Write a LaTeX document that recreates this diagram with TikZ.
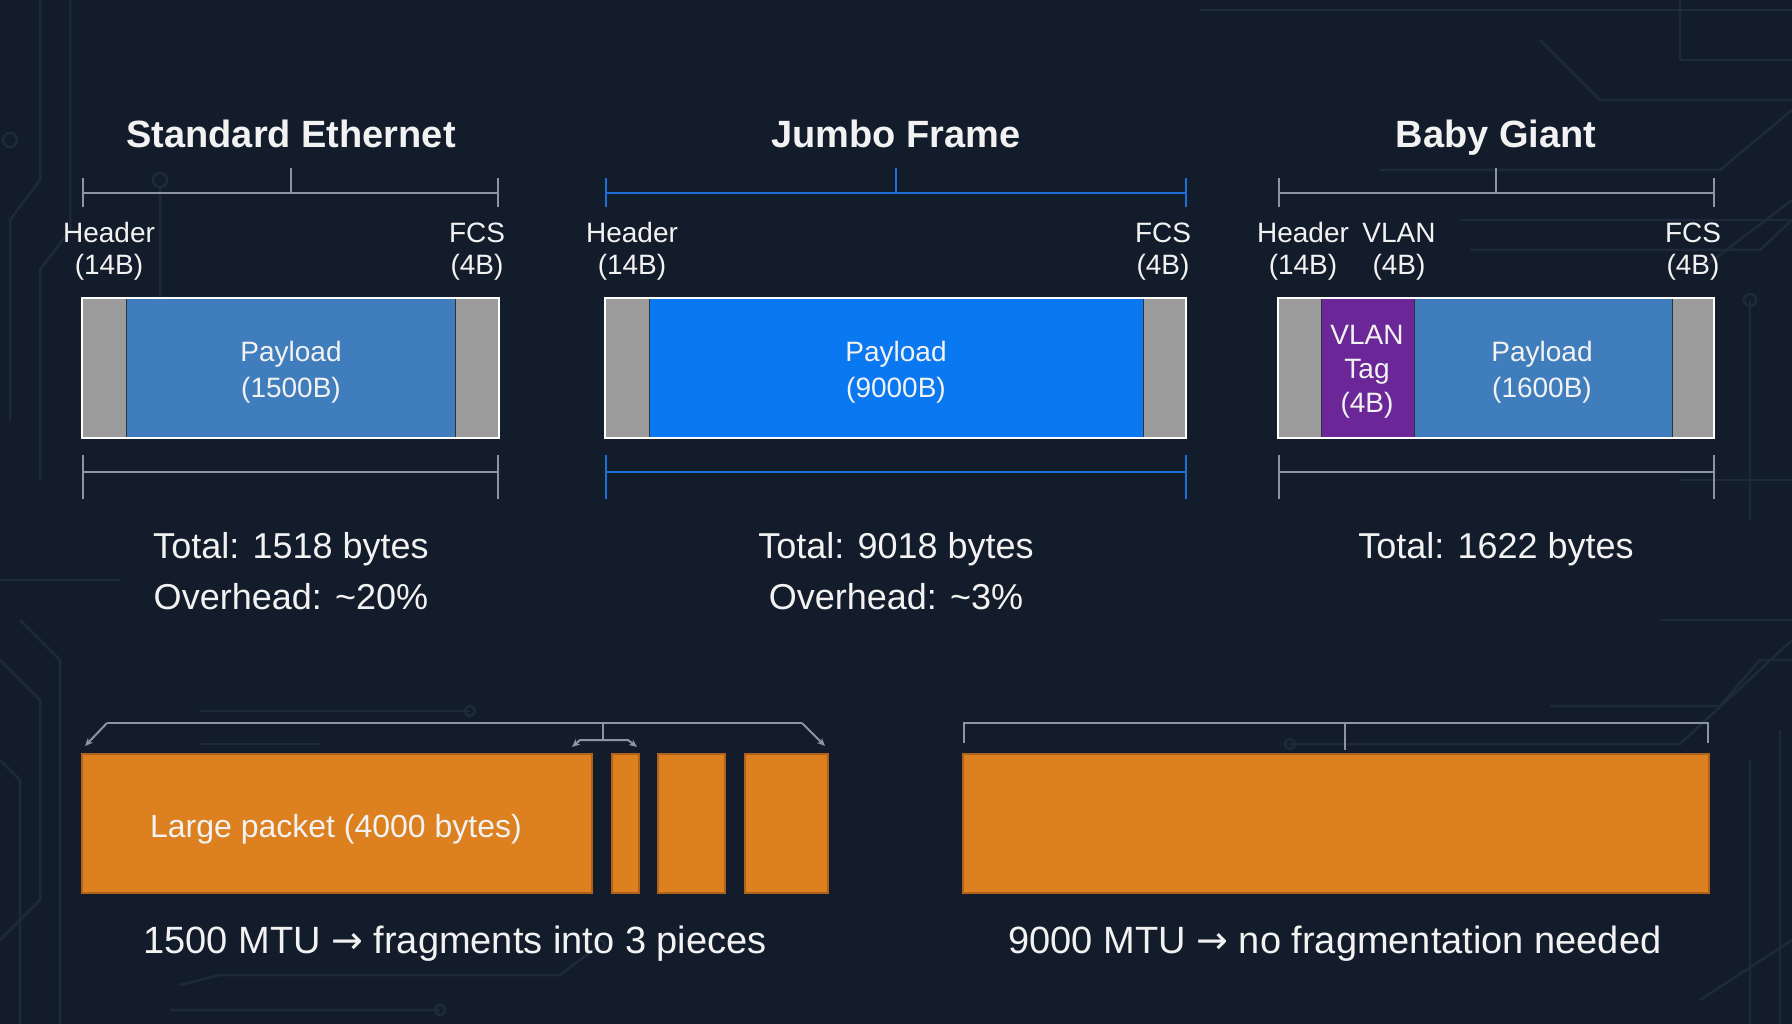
\documentclass[tikz,border=0pt]{standalone}
\usepackage{fontspec}
\setmainfont{Liberation Sans}
\newfontfamily\arr{DejaVu Sans}
\usetikzlibrary{calc,arrows.meta}
\definecolor{bg}{HTML}{131C2A}
\definecolor{trace}{HTML}{1E2939}
\definecolor{segline}{HTML}{2A3340}
\definecolor{hdrgray}{HTML}{9B9B9B}
\definecolor{stdblue}{HTML}{3F7DBD}
\definecolor{jumboblue}{HTML}{0A78F0}
\definecolor{vlanpurple}{HTML}{6B2797}
\definecolor{pktorange}{HTML}{DC8020}
\definecolor{pktborder}{HTML}{B0621A}
\definecolor{brkgray}{HTML}{8C96A3}
\definecolor{brkblue}{HTML}{1F6FD8}
\definecolor{txt}{HTML}{F2F2F2}
\tikzset{
  seg/.style={draw=segline, line width=1, inner sep=0, outer sep=0, anchor=north west, minimum height=140},
  frame/.style={draw=white!85, line width=2, inner sep=0, outer sep=0, anchor=north west, minimum height=140},
  pkt/.style={fill=pktorange, draw=pktborder, line width=1.5, inner sep=0, outer sep=0, anchor=north west, minimum height=139},
  lbl/.style={text=txt, inner sep=0, anchor=base, font=\fontsize{28}{32}\selectfont},
  ttl/.style={text=txt, inner sep=0, anchor=base, font=\fontsize{38}{44}\bfseries\selectfont},
  tot/.style={text=txt, inner sep=0, anchor=base, font=\fontsize{36}{44}\selectfont},
  captxt/.style={text=txt, inner sep=0, anchor=base, font=\fontsize{38}{44}\selectfont},
  brk/.style={draw=brkgray, line width=2},
  brkb/.style={draw=brkblue, line width=2.5},
  tr/.style={draw=trace, line width=2.5},
  tip/.style={-{Stealth[length=8,width=7]}}
}
\begin{document}
\begin{tikzpicture}[x=1pt,y=-1pt]
\fill[bg] (0,0) rectangle (1792,1024);
\useasboundingbox (0,0) rectangle (1792,1024);
% faint circuit traces
\draw[tr] (40,0) -- (40,180) -- (10,220) -- (10,420);
\draw[tr] (70,0) -- (70,230) -- (40,270) -- (40,480);
\draw[tr] (10,140) circle (7);
\draw[tr] (160,180) circle (7) (160,187) -- (160,300);
\draw[tr] (0,660) -- (40,700) -- (40,900) -- (0,940);
\draw[tr] (20,620) -- (60,660) -- (60,1024);
\draw[tr] (0,760) -- (20,780) -- (20,1024);
\draw[tr] (200,711) -- (470,711);
\draw[tr] (470,711) circle (5);
\draw[tr] (200,744) -- (320,744);
\draw[tr] (1540,40) -- (1600,100) -- (1792,100);
\draw[tr] (1380,170) -- (1720,170) -- (1792,110);
\draw[tr] (1460,220) -- (1792,220);
\draw[tr] (1470,250) -- (1760,250) -- (1792,220);
\draw[tr] (1680,0) -- (1680,60) -- (1792,60);
\draw[tr] (1700,270) -- (1792,200);
\draw[tr] (1750,300) -- (1750,520);
\draw[tr] (1750,300) circle (6);
\draw[tr] (1680,480) -- (1792,480);
\draw[tr] (1660,620) -- (1792,620);
\draw[tr] (1550,706) -- (1720,706) -- (1760,660) -- (1792,660);
\draw[tr] (1290,744) -- (1680,744) -- (1792,640);
\draw[tr] (1290,744) circle (5);
\draw[tr] (1750,760) -- (1750,1024);
\draw[tr] (1780,730) -- (1780,1024);
\draw[tr] (1700,1000) -- (1792,940);
\draw[tr] (0,580) -- (120,580);
\draw[tr] (1200,10) -- (1792,10);
\draw[tr] (180,985) -- (220,975) -- (560,975) -- (600,945) circle (5);
\draw[tr] (170,1010) -- (440,1010) circle (5);

% ===== Standard Ethernet =====
\node[ttl] (t1) at (291,148) {Standard Ethernet};
\node[seg, fill=hdrgray, minimum width=44] (s1h) at (82,298) {};
\node[seg, fill=stdblue, minimum width=329] (s1p) at (126,298) {};
\node[seg, fill=hdrgray, minimum width=44] (s1f) at (455,298) {};
\node[frame, minimum width=417] (s1) at (82,298) {};
\node[lbl] (p1a) at (291,362) {Payload};
\node[lbl] (p1b) at (291,397) {(1500B)};
\node[lbl] (l1h) at (109,243) {Header};
\node[lbl] (l1h2) at (109,275) {(14B)};
\node[lbl] (l1f) at (477,243) {FCS};
\node[lbl] (l1f2) at (477,275) {(4B)};
\draw[brk] (83,178) -- (83,207) (498,178) -- (498,207);
\draw[brk] (83,193) -- (498,193);
\draw[brk] (291,168) -- (291,193);
\draw[brk] (83,472) -- (498,472) (83,455) -- (83,499) (498,455) -- (498,499);
\node[tot] (tot1) at (291,558) {Total: 1518 bytes};
\node[tot] (ov1) at (291,609) {Overhead: \textasciitilde20\%};

% ===== Jumbo Frame =====
\node[ttl] (t2) at (896,148) {Jumbo Frame};
\node[seg, fill=hdrgray, minimum width=44] (s2h) at (605,298) {};
\node[seg, fill=jumboblue, minimum width=494] (s2p) at (649,298) {};
\node[seg, fill=hdrgray, minimum width=43] (s2f) at (1143,298) {};
\node[frame, minimum width=581] (s2) at (605,298) {};
\node[lbl] (p2a) at (896,362) {Payload};
\node[lbl] (p2b) at (896,397) {(9000B)};
\node[lbl] (l2h) at (632,243) {Header};
\node[lbl] (l2h2) at (632,275) {(14B)};
\node[lbl] (l2f) at (1163,243) {FCS};
\node[lbl] (l2f2) at (1163,275) {(4B)};
\draw[brkb] (606,178) -- (606,207) (1186,178) -- (1186,207);
\draw[brkb] (606,193) -- (1186,193);
\draw[brkb] (896,168) -- (896,193);
\draw[brkb] (606,472) -- (1186,472) (606,455) -- (606,499) (1186,455) -- (1186,499);
\node[tot] (tot2) at (896,558) {Total: 9018 bytes};
\node[tot] (ov2) at (896,609) {Overhead: \textasciitilde3\%};

% ===== Baby Giant =====
\node[ttl] (t3) at (1496,148) {Baby Giant};
\node[seg, fill=hdrgray, minimum width=43] (s3h) at (1278,298) {};
\node[seg, fill=vlanpurple, minimum width=93] (s3v) at (1321,298) {};
\node[seg, fill=stdblue, minimum width=258] (s3p) at (1414,298) {};
\node[seg, fill=hdrgray, minimum width=42] (s3f) at (1672,298) {};
\node[frame, minimum width=436] (s3) at (1278,298) {};
\node[lbl] (v3a) at (1367,345) {VLAN};
\node[lbl] (v3b) at (1367,378) {Tag};
\node[lbl] (v3c) at (1367,412) {(4B)};
\node[lbl] (p3a) at (1542,362) {Payload};
\node[lbl] (p3b) at (1542,397) {(1600B)};
\node[lbl] (l3h) at (1303,243) {Header};
\node[lbl] (l3h2) at (1303,275) {(14B)};
\node[lbl] (l3v) at (1399,243) {VLAN};
\node[lbl] (l3v2) at (1399,275) {(4B)};
\node[lbl] (l3f) at (1693,243) {FCS};
\node[lbl] (l3f2) at (1693,275) {(4B)};
\draw[brk] (1279,178) -- (1279,207) (1714,178) -- (1714,207);
\draw[brk] (1279,193) -- (1714,193);
\draw[brk] (1496,168) -- (1496,193);
\draw[brk] (1279,472) -- (1714,472) (1279,455) -- (1279,499) (1714,455) -- (1714,499);
\node[tot] (tot3) at (1496,558) {Total: 1622 bytes};

% ===== Fragmentation (left) =====
\node[pkt, minimum width=510] (big) at (82,754) {};
\node[text=txt, font=\fontsize{32}{36}\selectfont, inner sep=0, anchor=base] (bigt) at (336,837) {Large packet (4000 bytes)};
\node[pkt, minimum width=27] (f1) at (612,754) {};
\node[pkt, minimum width=67] (f2) at (658,754) {};
\node[pkt, minimum width=83] (f3) at (745,754) {};
\coordinate (bl) at (107,723);
\coordinate (br) at (802,723);
\coordinate (bm) at (603,723);
\coordinate (bmd) at (603,740);
\coordinate (tl) at (85,746);
\coordinate (tr) at (825,746);
\draw[brk] (bl) -- (bm) -- (br);
\draw[brk, tip] (bl) -- (tl);
\draw[brk, tip] (br) -- (tr);
\draw[brk] (bm) -- (bmd);
\draw[brk, tip] (bmd) -- (580,740) -- (572,747);
\draw[brk, tip] (bmd) -- (628,740) -- (637,747);
\node[captxt] (c1) at (455,953) {1500 MTU {\arr →} fragments into 3 pieces};

% ===== No fragmentation (right) =====
\node[pkt, minimum width=746] (jbig) at (963,754) {};
\draw[brk] (964,743) -- (964,723) -- (1708,723) -- (1708,743);
\draw[brk] (1345,723) -- (1345,750);
\node[captxt] (c2) at (1335,953) {9000 MTU {\arr →} no fragmentation needed};
\end{tikzpicture}
\end{document}
